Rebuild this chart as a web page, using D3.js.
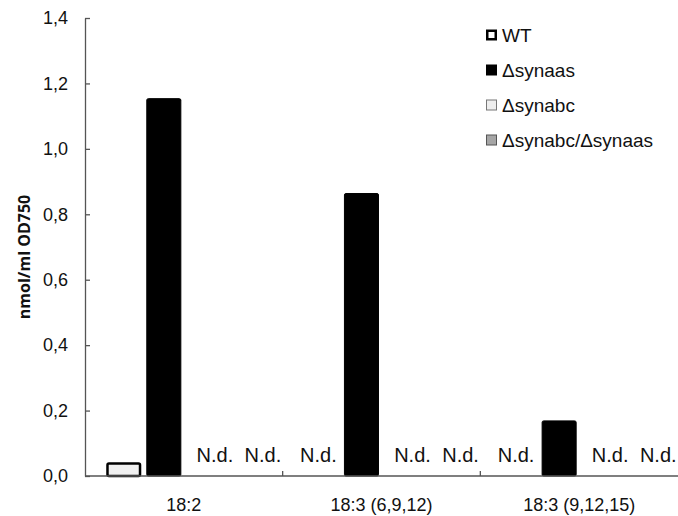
<!DOCTYPE html>
<html><head><meta charset="utf-8">
<script src="https://cdn.jsdelivr.net/npm/d3@7"></script>
<style>body{margin:0;background:#fff}svg{display:block}text{font-family:"Liberation Sans",Arial,sans-serif;fill:#111}</style>
</head><body><svg id="c" width="678" height="516"></svg>
<script>
const categories = ["18:2", "18:3 (6,9,12)", "18:3 (9,12,15)"];
const seriesNames = ["WT", "\u0394synaas", "\u0394synabc", "\u0394synabc/\u0394synaas"];
const wtValues = [0.042, null, null];
const synaasValues = [1.155, 0.865, 0.17];
const synabcValues = [null, null, null];
const doubleValues = [null, null, null];
const yTicks = [0, 0.2, 0.4, 0.6, 0.8, 1.0, 1.2, 1.4];
const ndLabel = "N.d.";

(function(){
const series = [wtValues, synaasValues, synabcValues, doubleValues];
const styles = [
  {fill:"#f0f0f0", stroke:"#000", sw:2.5, lfill:"#fff", lstroke:"#000", lsw:2.5, ndx:-3},
  {fill:"#000", stroke:"#000", sw:1, lfill:"#000", lstroke:"#000", lsw:1, ndx:0},
  {fill:"#eeeeee", stroke:"#777", sw:1, lfill:"#eeeeee", lstroke:"#777", lsw:1, ndx:11},
  {fill:"#a6a6a6", stroke:"#555", sw:1, lfill:"#a6a6a6", lstroke:"#555", lsw:1, ndx:19}
];

const svg = d3.select("#c");
const mL = 85, mR = 678, mT = 18, mB = 476;
const y = d3.scaleLinear().domain([0, 1.4]).range([mB, mT]);
const x0 = d3.scaleBand().domain(categories).range([mL, mR]);
const x1 = d3.scaleBand().domain(d3.range(seriesNames.length)).range([0, x0.bandwidth()]).paddingInner(0.125).paddingOuter(0.53);

categories.forEach((c, ci) => {
  series.forEach((vals, si) => {
    const v = vals[ci];
    const bx = x0(c) + x1(si);
    const st = styles[si];
    if (v == null) {
      svg.append("text").attr("x", bx + x1.bandwidth()/2 + st.ndx).attr("y", 462)
        .attr("text-anchor", "middle").style("font-size", "20px").text(ndLabel);
    } else {
      const inset = st.sw/2;
      svg.append("rect").attr("x", bx + inset).attr("y", y(v) + inset)
        .attr("width", x1.bandwidth() - 2*inset).attr("height", y(0) - y(v) - inset)
        .attr("rx", 1.5).attr("fill", st.fill).attr("stroke", st.stroke).attr("stroke-width", st.sw);
    }
  });
});

const yAxis = d3.axisLeft(y).tickValues(yTicks).tickSizeInner(-5).tickSizeOuter(0)
  .tickFormat(d => d3.format(".1f")(d).replace(".", ","));
const gy = svg.append("g").attr("transform", `translate(${mL},0)`).call(yAxis);
gy.select(".domain").attr("stroke", "#555").attr("stroke-width", 1.3);
gy.selectAll(".tick line").attr("stroke", "#555").attr("stroke-width", 1.3);
gy.selectAll(".tick text").attr("x", -17).style("font-size", "18px").style("font-family", '"Liberation Sans",Arial,sans-serif').attr("fill", "#111");

const gx = svg.append("g").attr("transform", `translate(0,${mB})`);
gx.append("line").attr("x1", mL).attr("x2", mR).attr("stroke", "#555").attr("stroke-width", 1.3);
const bounds = categories.slice(1).map(c => x0(c));
gx.selectAll(".sep").data(bounds).join("line").attr("x1", d => d).attr("x2", d => d)
  .attr("y1", 0).attr("y2", -5).attr("stroke", "#555").attr("stroke-width", 1.3);
gx.selectAll(".cl").data(categories).join("text")
  .attr("x", d => x0(d) + x0.bandwidth()/2).attr("y", 35).attr("text-anchor", "middle")
  .style("font-size", "18px").text(d => d);

svg.append("text").attr("transform", `translate(30,257) rotate(-90)`)
  .attr("text-anchor", "middle").style("font-family", '"Open Sans",sans-serif').style("font-weight", "bold").style("font-size", "16px")
  .text("nmol/ml OD750");

const lg = svg.append("g");
seriesNames.forEach((n, i) => {
  const cy = 35 + i*35;
  const st = styles[i];
  const s = 11;
  lg.append("rect").attr("x", 486 + st.lsw/2).attr("y", cy - s/2 + st.lsw/2)
    .attr("width", s - st.lsw).attr("height", s - st.lsw)
    .attr("fill", st.lfill).attr("stroke", st.lstroke).attr("stroke-width", st.lsw);
  lg.append("text").attr("x", 502).attr("y", cy + 7).style("font-size", "19px").text(n);
});
})();
</script></body></html>
